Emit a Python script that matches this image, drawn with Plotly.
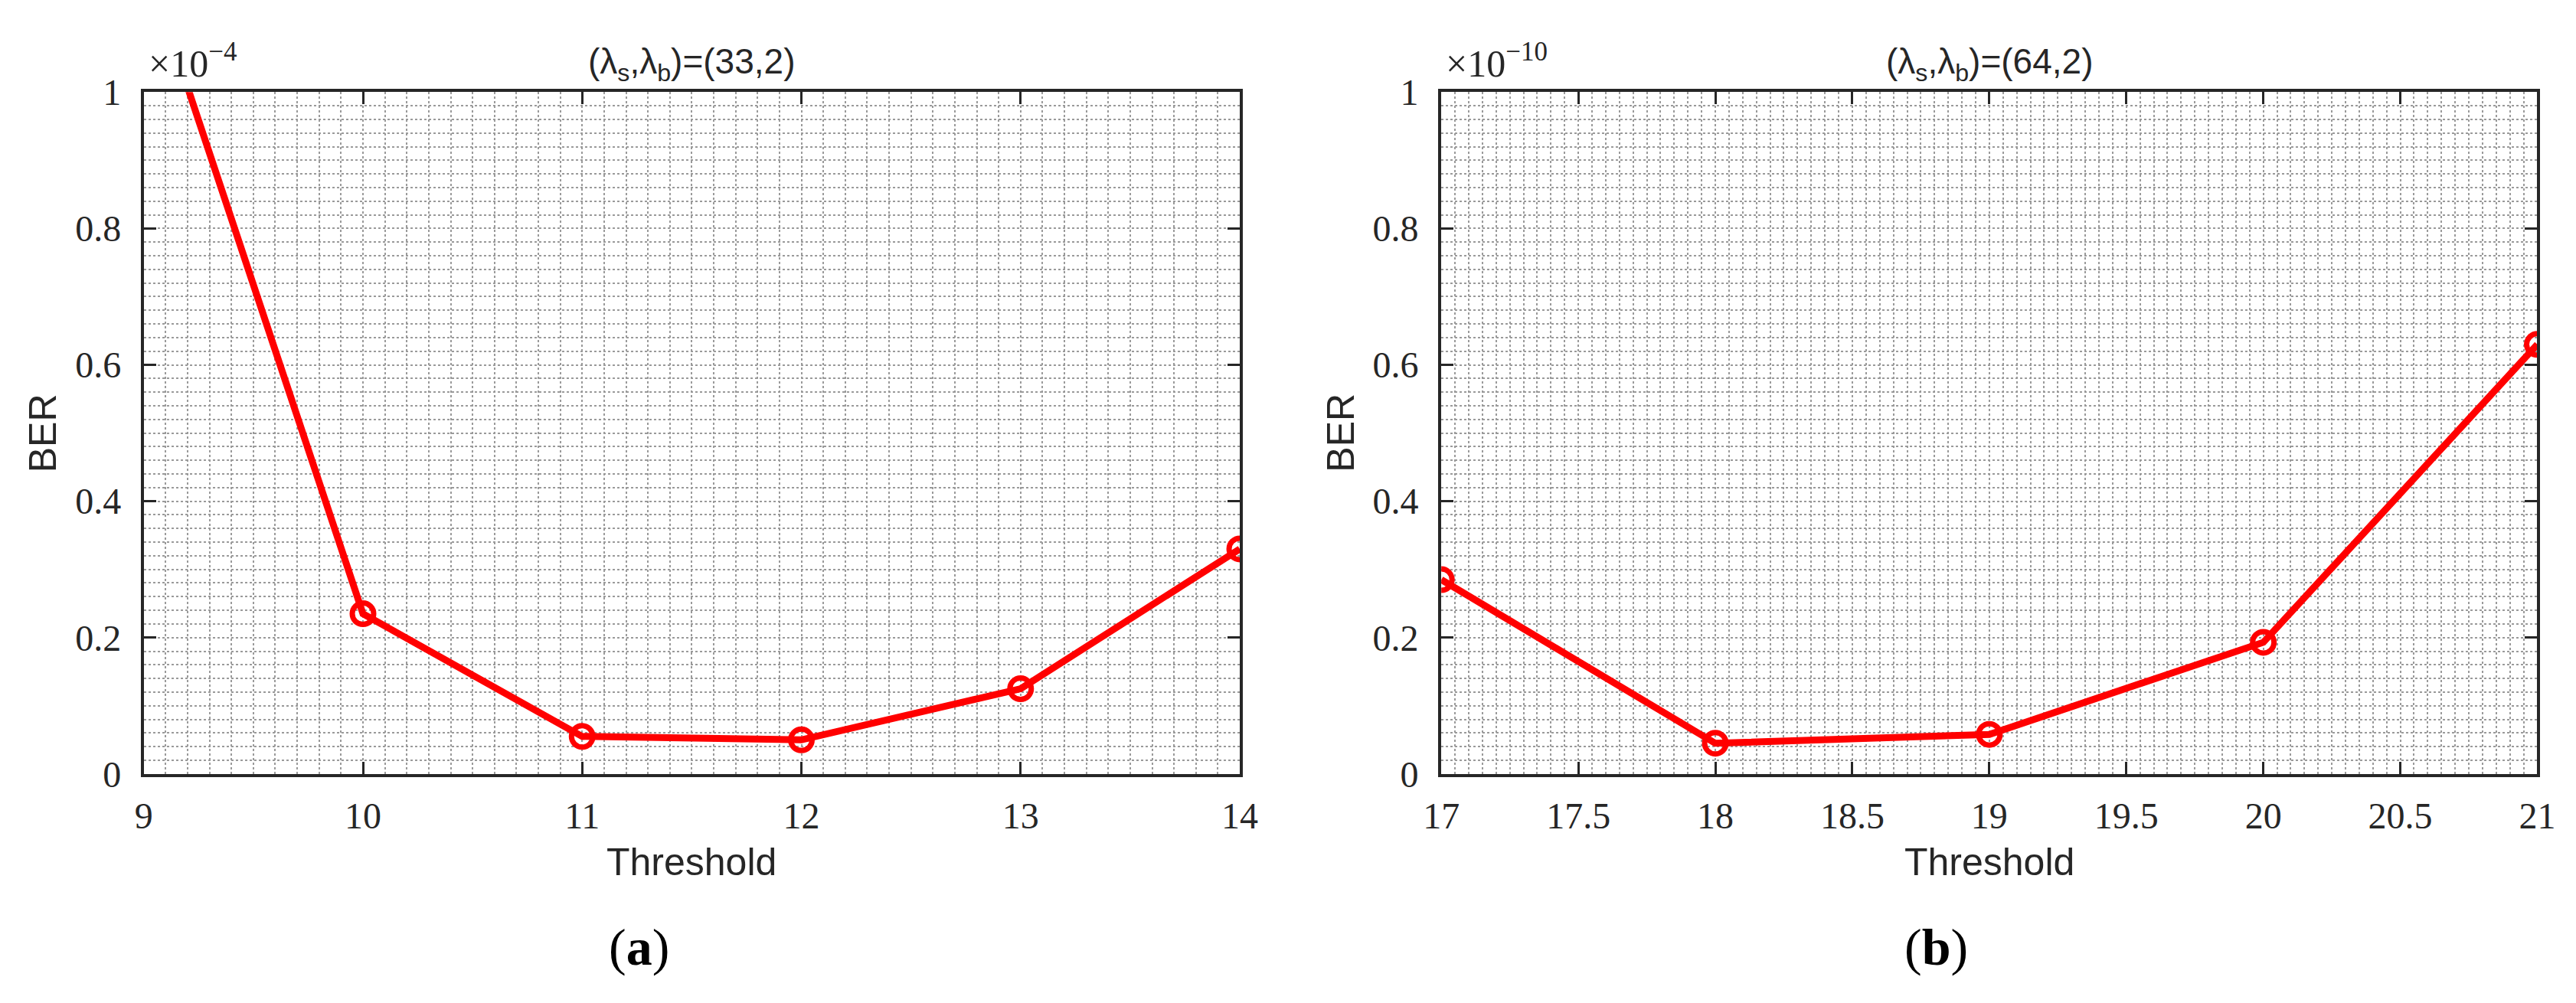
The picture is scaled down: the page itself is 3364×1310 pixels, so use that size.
import plotly.graph_objects as go

W, H = 3364, 1310

# panel (a): BER in units of 1e-4
thr_a = [9, 10, 11, 12, 13, 14]
ber_a = [1.2, 0.235, 0.055, 0.05, 0.125, 0.33]
# panel (b): BER in units of 1e-10
thr_b = [17, 18, 19, 20, 21]
ber_b = [0.285, 0.045, 0.058, 0.193, 0.63]

titles = ["(λ<sub>s</sub>,λ<sub>b</sub>)=(33,2)", "(λ<sub>s</sub>,λ<sub>b</sub>)=(64,2)"]
exponents = ["−4", "−10"]
panels = ["(<b>a</b>)", "(<b>b</b>)"]
y_ticks = [0, 0.2, 0.4, 0.6, 0.8, 1]
y_ticktext = ["0", "0.2", "0.4", "0.6", "0.8", "1"]

RED = "#ff0000"
INK = "#262626"
SERIF = "Liberation Serif"
SANS = "Liberation Sans"


def px(xp):
    return xp / W


def py(yp):
    return 1 - yp / H


# plot area in pixels
left_a, left_b, plot_w = 158, 1877, 1452
top, bottom = 90, 1018

fig = go.Figure()
for xs, ys, xa, ya in [(thr_a, ber_a, "x", "y"), (thr_b, ber_b, "x2", "y2")]:
    fig.add_trace(go.Scatter(x=xs, y=ys, mode="lines+markers",
                             line=dict(color=RED, width=9),
                             marker=dict(symbol="circle-open", size=28, color=RED,
                                         line=dict(width=7, color=RED)),
                             xaxis=xa, yaxis=ya, showlegend=False))

grid = dict(showgrid=True, gridcolor="#9a9a9a", gridwidth=1.5, griddash="dot")
common = dict(showline=True, linecolor=INK, linewidth=4, mirror="ticks",
              ticks="inside", ticklen=16, tickwidth=3, tickcolor=INK,
              tickfont=dict(family=SERIF, size=48, color=INK),
              zeroline=False, **grid)

fig.update_layout(
    width=W, height=H, margin=dict(l=0, r=0, t=0, b=0),
    paper_bgcolor="white", plot_bgcolor="white",
    xaxis=dict(domain=[px(left_a), px(left_a + plot_w)], range=[9, 14], dtick=1,
               anchor="y", ticklabelstandoff=10,
               minor=dict(dtick=0.1, **grid), **common),
    yaxis=dict(domain=[py(bottom), py(top)], range=[0, 1], tickvals=y_ticks,
               ticktext=y_ticktext, anchor="x", ticklabelstandoff=16,
               minor=dict(dtick=0.02, **grid), **common),
    xaxis2=dict(domain=[px(left_b), px(left_b + plot_w)], range=[17, 21], dtick=0.5,
                anchor="y2", ticklabelstandoff=10,
                minor=dict(dtick=0.05, **grid), **common),
    yaxis2=dict(domain=[py(bottom), py(top)], range=[0, 1], tickvals=y_ticks,
                ticktext=y_ticktext, anchor="x2", ticklabelstandoff=16,
                minor=dict(dtick=0.02, **grid), **common),
)


def note(x, y, text, font, **kw):
    args = dict(xanchor="center", yanchor="middle")
    args.update(kw)
    fig.add_annotation(x=px(x), y=py(y), xref="paper", yref="paper",
                       text=text, showarrow=False, font=font, **args)


for i, left in enumerate([left_a, left_b]):
    cx = left + plot_w / 2
    note(cx, 52, titles[i], dict(family=SANS, size=46, color=INK))
    note(left + 4, 82, "×10<sup>" + exponents[i] + "</sup>",
         dict(family=SERIF, size=50, color=INK), xanchor="left", yanchor="bottom")
    note(left - 134, (top + bottom) / 2, "BER", dict(family=SANS, size=50, color=INK),
         textangle=-90)
    note(cx, 1138, "Threshold", dict(family=SANS, size=50, color=INK))
    note(cx - 70, 1254, panels[i], dict(family=SERIF, size=68, color="black"))

fig.write_html("out.html")
